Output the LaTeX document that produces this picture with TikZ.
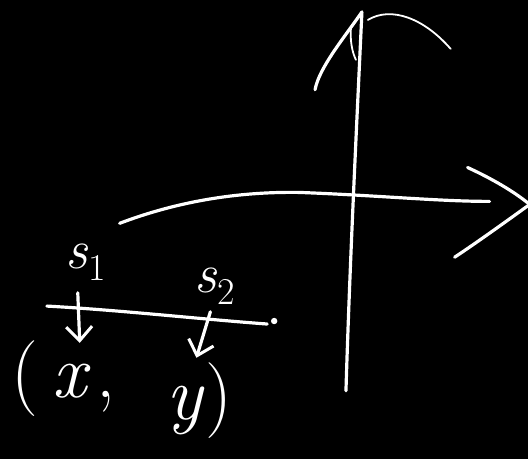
\documentclass[tikz,border=0pt]{standalone}
\usepackage{fontspec}
\usepackage{tikz}
\usetikzlibrary{arrows.meta,positioning,calc}
\newcommand{\sub}[1]{\raisebox{-0.22em}{\fontsize{38}{40}\selectfont #1}}

\begin{document}
\begin{tikzpicture}[
    x=1pt, y=-1pt,
    pen/.style={draw=white, line width=3.2pt, line cap=round, line join=round},
    thinpen/.style={draw=white, line width=1.8pt, line cap=round},
    hand/.style={text=white, inner sep=0pt, font=\fontsize{56}{60}\selectfont},
    bighand/.style={text=white, inner sep=0pt, font=\fontsize{76}{80}\selectfont},
    arr/.style={pen, -{Straight Barb[length=14pt, width=26pt, line width=3pt]}}
  ]
    \fill[black] (0,0) rectangle (530,460);
    % axes
    \draw[pen] (347,392) .. controls (351,260) and (358,120) .. (363,12);
    \draw[pen] (363,12) .. controls (345,38) and (320,68) .. (316,90);
    \draw[thinpen] (352,28) .. controls (351,40) and (353,52) .. (357,60);
    \draw[thinpen] (369,20) .. controls (392,6) and (425,18) .. (452,49);
    \draw[pen] (120,224) .. controls (170,205) and (230,192) .. (300,193)
      .. controls (380,196) and (440,202) .. (491,202);
    \draw[pen] (469,168) .. controls (495,180) and (515,192) .. (530,204);
    \draw[pen] (530,206) .. controls (505,224) and (480,242) .. (456,258);
    % labels
    \node[hand] (s1) at (86,263) {\textit{s}\sub{1}};
    \node[hand] (s2) at (215,287) {\textit{s}\sub{2}};
    \node[bighand] (xval) at (64,380) {(\hspace{0.18em}\textit{x}\hspace{0.08em},};
    \node[bighand] (yval) at (200,402) {\textit{y})};
    \draw[pen] (47,307) .. controls (120,311) and (200,320) .. (268,325);
    \fill[white] (275,322) circle (3.2pt);
    \draw[arr] ($(s1.south)+(-8,12)$) -- ($(xval.north)+(16,2)$);
    \draw[arr] ($(s2.south)+(-4,7)$) -- ($(yval.north)+(-3,-5)$);
  \end{tikzpicture}
\end{document}
